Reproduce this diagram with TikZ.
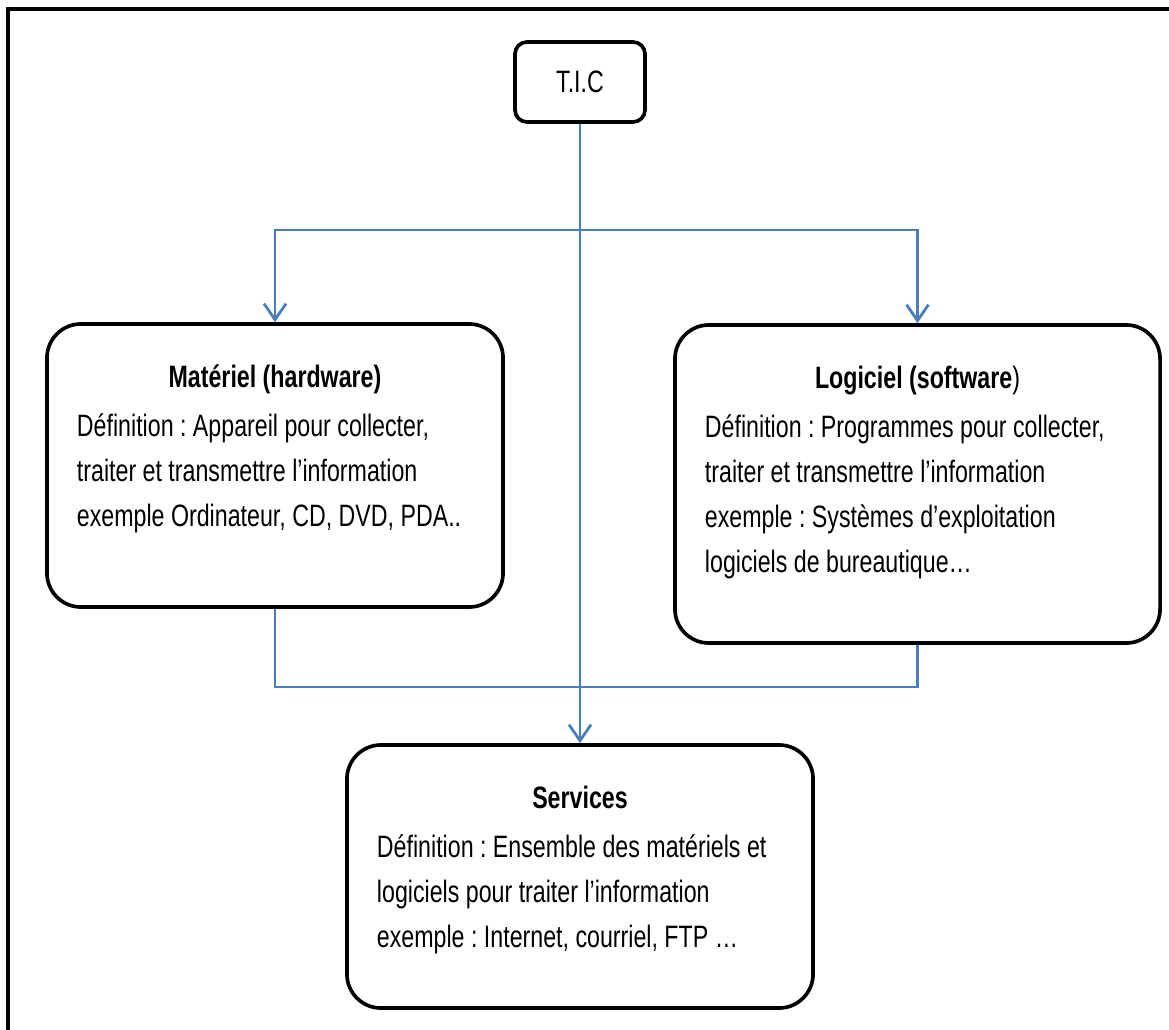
\documentclass[tikz,border=0pt]{standalone}
\usepackage{fontspec}
\newfontfamily\narrowfont[FakeStretch=0.75]{Liberation Sans}
\usetikzlibrary{arrows.meta}
\definecolor{linkblue}{RGB}{74,126,187}
\newcommand{\boxtext}[4]{\parbox[c][#1][t]{#2}{\centering\rule{0pt}{1.6cm}\bfseries #3\par
\vspace{0.1cm}\raggedright\mdseries #4}}
\frenchspacing

\begin{document}
\begin{tikzpicture}
[x=0.025cm,y=-0.025cm,
    font=\narrowfont\fontsize{22}{32}\selectfont,
block/.style={draw=black,line width=2.6pt,rounded corners=0.85cm,fill=white,inner xsep=0.75cm,inner ysep=0pt},
smallblock/.style={draw=black,line width=2.6pt,rounded corners=0.3cm,fill=white,minimum width=3.25cm,minimum height=2cm},
edge/.style={linkblue,line width=2pt},
edgearr/.style={edge,-{Straight Barb[length=4mm,width=5.5mm]}}]
\useasboundingbox (0,0) rectangle (1169,1030);
%%%%%%%%%%
%% frame
\draw[line width=3pt] (1169,9) -- (8,9) -- (8,1030);
%%
\node (tic) [smallblock] at (580,82) {T.I.C};
\node (mat) [block,minimum width=11.4cm,minimum height=7.075cm] at (275,465.5)
{\boxtext{7.075cm}{9.9cm}{Matériel (hardware)}{Définition : Appareil pour collecter,\\
traiter et transmettre l’information\\exemple Ordinateur, CD, DVD, PDA..}};
\node (log) [block,minimum width=12.125cm,minimum height=7.95cm] at (917.5,484)
{\boxtext{7.95cm}{10.625cm}{Logiciel (software\mdseries)}{Définition : Programmes pour collecter,\\
traiter et transmettre l’information\\exemple : Systèmes d’exploitation\\logiciels de bureautique…}};
\node (srv) [block,minimum width=11.65cm,minimum height=6.575cm] at (580,876.5)
{\boxtext{6.575cm}{10.15cm}{Services}{Définition : Ensemble des matériels et\\
logiciels pour traiter l’information\\exemple : Internet, courriel, FTP …}};
%%
\coordinate (split) at (580,230);
\coordinate (join) at (580,687);
\draw[edgearr] (split) -| (mat.north);
\draw[edgearr] (split) -| (log.north);
\draw[edgearr] (tic.south) -- (srv.north);
\draw[edge] (mat.south) |- (join) -| (log.south);
\end{tikzpicture}
\end{document}
